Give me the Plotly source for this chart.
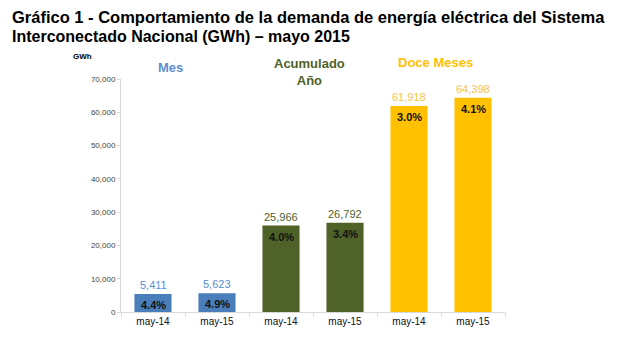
import plotly.graph_objects as go

groups = ["Mes", "Acumulado<br>Año", "Doce Meses"]
periods = ["may-14", "may-15"]
mes_vals = [5411, 5623]
acum_vals = [25966, 26792]
doce_vals = [61918, 64398]
mes_pct = ["4.4%", "4.9%"]
acum_pct = ["4.0%", "3.4%"]
doce_pct = ["3.0%", "4.1%"]
y_ticks = [0, 10000, 20000, 30000, 40000, 50000, 60000, 70000]
title_lines = ["Gráfico 1 - Comportamiento de la demanda de energía eléctrica del Sistema",
               "Interconectado Nacional (GWh) – mayo 2015"]

bar_colors = ["#4a7ebb", "#4f6228", "#ffc000"]
label_colors = ["#558ed5", "#4f6228", "#f7c34a"]
group_title_colors = ["#5b8fd0", "#4f6228", "#ffc000"]

FONT = "Liberation Sans, Arial"
series = [(mes_vals, mes_pct), (acum_vals, acum_pct), (doce_vals, doce_pct)]

fig = go.Figure()
annotations = []
all_keys = []
for gi, (vals, pcts) in enumerate(series):
    keys = [f"g{gi}-{p}" for p in periods]
    all_keys += keys
    fig.add_trace(go.Bar(x=keys, y=vals, marker_color=bar_colors[gi],
                         marker_line_width=0, width=0.58, showlegend=False))
    for k, v, pc in zip(keys, vals, pcts):
        annotations.append(dict(x=k, y=v, xref="x", yref="y", text=f"{v:,}",
                                showarrow=False, yanchor="bottom", yshift=1,
                                font=dict(family=FONT, size=11, color=label_colors[gi])))
        annotations.append(dict(x=k, y=v, xref="x", yref="y", text=f"<b>{pc}</b>",
                                showarrow=False, yanchor="top", yshift=-3,
                                font=dict(family=FONT, size=11, color="#111111")))

# group titles (paper coordinates)
group_pos = [(0.128, 1.0515), (0.49, 1.03), (0.82, 1.069)]
for gi, (gx, gy) in enumerate(group_pos):
    annotations.append(dict(x=gx, y=gy, xref="paper", yref="paper",
                            text=f"<b>{groups[gi]}</b>", showarrow=False,
                            xanchor="center", yanchor="middle",
                            font=dict(family=FONT, size=13, color=group_title_colors[gi])))

annotations.append(dict(x=-0.1, y=1.095, xref="paper", yref="paper", text="<b>GWh</b>",
                        showarrow=False, xanchor="center", yanchor="middle",
                        font=dict(family=FONT, size=8, color="#000")))

# title lines
title_sizes = [16.5, 16]
for i, line in enumerate(title_lines):
    annotations.append(dict(x=-121 / 384 + 10 / 384, y=1 + (79 - (17 + 20 * i)) / 233,
                            xref="paper", yref="paper", text=f"<b>{line}</b>",
                            showarrow=False, xanchor="left", yanchor="middle",
                            font=dict(family=FONT, size=title_sizes[i], color="#000")))

fig.update_layout(
    width=617, height=353,
    margin=dict(l=121, r=112, t=79, b=41),
    paper_bgcolor="white", plot_bgcolor="white",
    annotations=annotations,
    xaxis=dict(type="category", categoryorder="array", categoryarray=all_keys,
               tickvals=all_keys, ticktext=periods * 3,
               tickson="boundaries", ticks="outside", ticklen=4, tickcolor="#d9d9d9",
               showline=True, linecolor="#d9d9d9", linewidth=1,
               tickfont=dict(family=FONT, size=10, color="#111"),
               showgrid=False),
    yaxis=dict(range=[0, 70000], tickvals=y_ticks, tickformat=",",
               ticks="outside", ticklen=3, tickcolor="#d9d9d9",
               showline=True, linecolor="#d9d9d9", linewidth=1,
               showgrid=False, zeroline=False,
               tickfont=dict(family=FONT, size=8, color="#444")),
)

fig.write_html("out.html")
